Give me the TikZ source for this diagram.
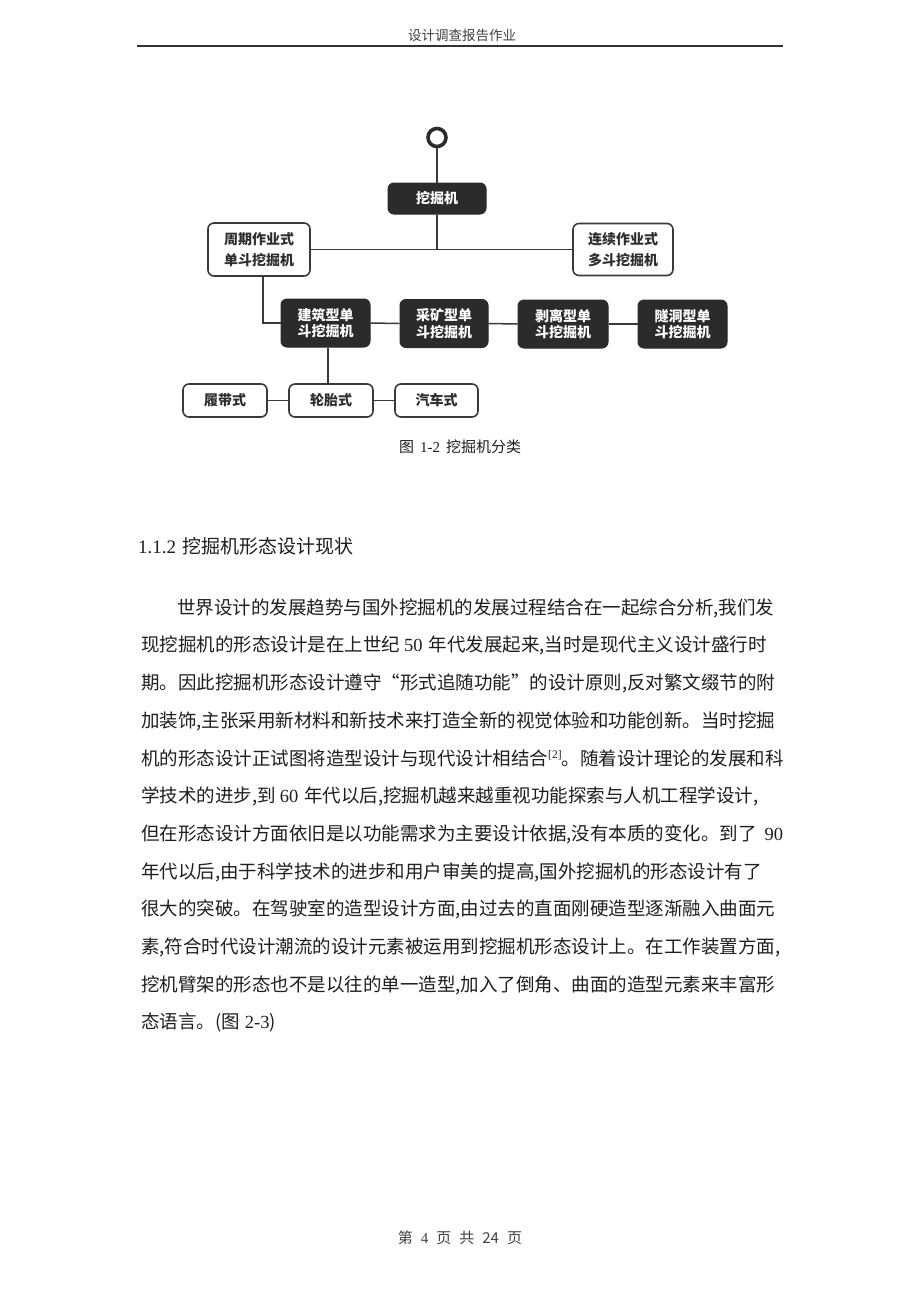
\documentclass[tikz,border=0pt]{standalone}
\usepackage{fontspec}
\setmainfont{Noto Sans CJK SC}
\newfontfamily\lat{Liberation Serif}
\XeTeXlinebreaklocale "zh"
\XeTeXlinebreakskip=0pt plus 3pt minus 1pt
\definecolor{boxdark}{HTML}{2B2B2B}
\definecolor{linegray}{HTML}{3A3A3A}
\definecolor{textdark}{HTML}{2E2E2E}
\definecolor{bodytext}{HTML}{1E1E1E}
\definecolor{headgray}{HTML}{404040}
\newcommand{\gap}[1]{\kern#1pt\relax}
\begin{document}
\begin{tikzpicture}[x=1pt,y=-1pt,
  darkbox/.style={rectangle, rounded corners=6pt, fill=boxdark, draw=boxdark, line width=1pt,
    text=white, font=\bfseries\fontsize{14}{16.5}\selectfont, align=center, inner sep=0pt},
  lightbox/.style={rectangle, rounded corners=6pt, fill=white, draw=linegray, line width=1.6pt,
    text=textdark, font=\bfseries\fontsize{14}{21}\selectfont, align=center, inner sep=0pt},
  conn/.style={draw=linegray, line width=1.5pt},
  bodyline/.style={anchor=west, inner sep=0pt, text=bodytext, font=\fontsize{18.5}{20}\selectfont},
]
\useasboundingbox[fill=white] (0,0) rectangle (920,1302);

% header
\node[inner sep=0pt, text=headgray, font=\fontsize{13.5}{15}\selectfont] (hdr) at (462,35) {设计调查报告作业};
\coordinate (hl) at (137,46);
\coordinate (hr) at (783,46);
\draw[line width=1.3pt, draw=black!80] (hl) -- (hr);

% diagram
\node[circle, draw=boxdark, line width=3.6pt, minimum size=18pt, inner sep=0pt] (ring) at (437,137.5) {};
\node[darkbox, minimum width=98pt, minimum height=31pt] (top) at (437,198.5) {挖掘机};
\node[lightbox, minimum width=102pt, minimum height=53pt] (zq) at (259,249.5) {周期作业式\\单斗挖掘机};
\node[lightbox, minimum width=100pt, minimum height=52pt] (lx) at (623,249.5) {连续作业式\\多斗挖掘机};
\node[darkbox, minimum width=89pt, minimum height=48pt] (jz) at (325.5,323) {建筑型单\\斗挖掘机};
\node[darkbox, minimum width=88pt, minimum height=48pt] (ck) at (444,323.5) {采矿型单\\斗挖掘机};
\node[darkbox, minimum width=90pt, minimum height=48pt] (bl) at (563,324) {剥离型单\\斗挖掘机};
\node[darkbox, minimum width=89pt, minimum height=48pt] (sd) at (682.5,324) {隧洞型单\\斗挖掘机};
\node[lightbox, minimum width=84pt, minimum height=33pt] (ld) at (225,400.5) {履带式};
\node[lightbox, minimum width=84pt, minimum height=33pt] (lt) at (331,400.5) {轮胎式};
\node[lightbox, minimum width=83pt, minimum height=33pt] (qc) at (436.5,400.5) {汽车式};

\draw[conn] (ring.south) -- (top.north);
\draw[conn] (zq.east) -- (lx.west);
\draw[conn] (top.south) -- (top.south |- zq.east);
\draw[conn] ([xshift=4pt]zq.south) |- (jz.west);
\draw[conn] (jz.east) -- (ck.west);
\draw[conn] (ck.east) -- (bl.west);
\draw[conn] (bl.east) -- (sd.west);
\draw[conn] ([xshift=2.5pt]jz.south) -- ([xshift=-3pt]lt.north);
\draw[conn] (ld.east) -- (lt.west);
\draw[conn] (lt.east) -- (qc.west);

\node[inner sep=0pt, text=bodytext, font=\fontsize{15}{17}\selectfont] (cap) at (460,447) {图\gap{6}{\lat 1-2}\gap{6}挖掘机分类};

% section heading
\node[anchor=west, inner sep=0pt, text=bodytext, font=\fontsize{19}{21}\selectfont] (sec) at (138,546) {{\lat 1.1.2}\gap{6}挖掘机形态设计现状};

% paragraph
\node[bodyline] (l1) at (177,608) {\hbox to 606pt{世界设计的发展趋势与国外挖掘机的发展过程结合在一起综合分析,我们发}};
\node[bodyline] (l2) at (141,645.7) {\hbox to 642pt{现挖掘机的形态设计是在上世纪\gap{4}{\lat 50}\gap{6}年代发展起来,当时是现代主义设计盛行时}};
\node[bodyline] (l3) at (141,683.4) {\hbox to 642pt{期。因此挖掘机形态设计遵守“形式追随功能”的设计原则,反对繁文缀节的附}};
\node[bodyline] (l4) at (141,721.1) {\hbox to 642pt{加装饰,主张采用新材料和新技术来打造全新的视觉体验和功能创新。当时挖掘}};
\node[bodyline] (l5) at (141,758.8) {\hbox to 642pt{机的形态设计正试图将造型设计与现代设计相结合\raisebox{7pt}{\fontsize{11.5}{11.5}\selectfont\lat [2]}。随着设计理论的发展和科}};
\node[bodyline] (l6) at (141,796.5) {\hbox to 642pt{学技术的进步,到\gap{4}{\lat 60}\gap{6}年代以后,挖掘机越来越重视功能探索与人机工程学设计,}};
\node[bodyline] (l7) at (141,834.2) {\hbox to 642pt{但在形态设计方面依旧是以功能需求为主要设计依据,没有本质的变化。到了\hfil{\lat 90}}};
\node[bodyline] (l8) at (141,871.9) {\hbox to 642pt{年代以后,由于科学技术的进步和用户审美的提高,国外挖掘机的形态设计有了}};
\node[bodyline] (l9) at (141,909.6) {\hbox to 642pt{很大的突破。在驾驶室的造型设计方面,由过去的直面刚硬造型逐渐融入曲面元}};
\node[bodyline] (l10) at (141,947.3) {\hbox to 642pt{素,符合时代设计潮流的设计元素被运用到挖掘机形态设计上。在工作装置方面,}};
\node[bodyline] (l11) at (141,985) {\hbox to 642pt{挖机臂架的形态也不是以往的单一造型,加入了倒角、曲面的造型元素来丰富形}};
\node[bodyline] (l12) at (141,1022.7) {态语言。({图}\gap{5}{\lat 2-3})};

% footer
\node[inner sep=0pt, text=headgray, font=\fontsize{15}{17}\selectfont] (ftr) at (460,1238) {第\gap{8}{\lat 4}\gap{8}页\gap{8}共\gap{8}24\gap{8}页};
\end{tikzpicture}
\end{document}
